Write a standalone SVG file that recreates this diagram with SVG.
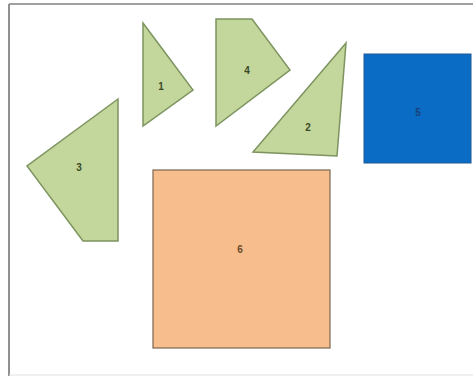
<svg xmlns="http://www.w3.org/2000/svg" width="473" height="376" viewBox="0 0 473 376">
<style>
.g{fill:#c3d69b;stroke:#7d9460;stroke-width:1.5;stroke-linejoin:miter}
.t{font-family:"Liberation Sans",Arial,sans-serif;font-size:10px;font-weight:bold;text-anchor:middle;dominant-baseline:central}
.tg{fill:#3b4a26}
</style>
<rect x="0" y="0" width="473" height="376" fill="#ffffff"/>
<g id="frame" fill="none">
<line x1="9" y1="4" x2="473" y2="4" stroke="#a0a0a0" stroke-width="2"/>
<line x1="9" y1="4" x2="9" y2="376" stroke="#909090" stroke-width="2"/>
<line x1="9" y1="375" x2="473" y2="375" stroke="#e0e0e0" stroke-width="1"/>
</g>
<g id="shape1">
<polygon class="g" points="143,23 193,90 143,126"/>
<text class="t tg" x="161" y="86">1</text>
</g>
<g id="shape4">
<polygon class="g" points="216,19 252,19 290,70 216,126"/>
<text class="t tg" x="247" y="70">4</text>
</g>
<g id="shape2">
<polygon class="g" points="346,43 253,152 337,156"/>
<text class="t tg" x="308" y="127">2</text>
</g>
<g id="shape3">
<polygon class="g" points="118,99 27,166 83,241 118,241"/>
<text class="t tg" x="79" y="167">3</text>
</g>
<g id="shape5">
<rect x="364" y="54" width="107" height="109" fill="#0a6cc4" stroke="#1f5b96" stroke-width="1"/>
<text class="t" x="418" y="112" fill="#1a3f78">5</text>
</g>
<g id="shape6">
<rect x="153" y="170" width="177" height="178" fill="#f7bd8c" stroke="#7a6650" stroke-width="1.2"/>
<text class="t" x="240" y="249" fill="#6b4a2a">6</text>
</g>
<g id="connectors"/>
</svg>
